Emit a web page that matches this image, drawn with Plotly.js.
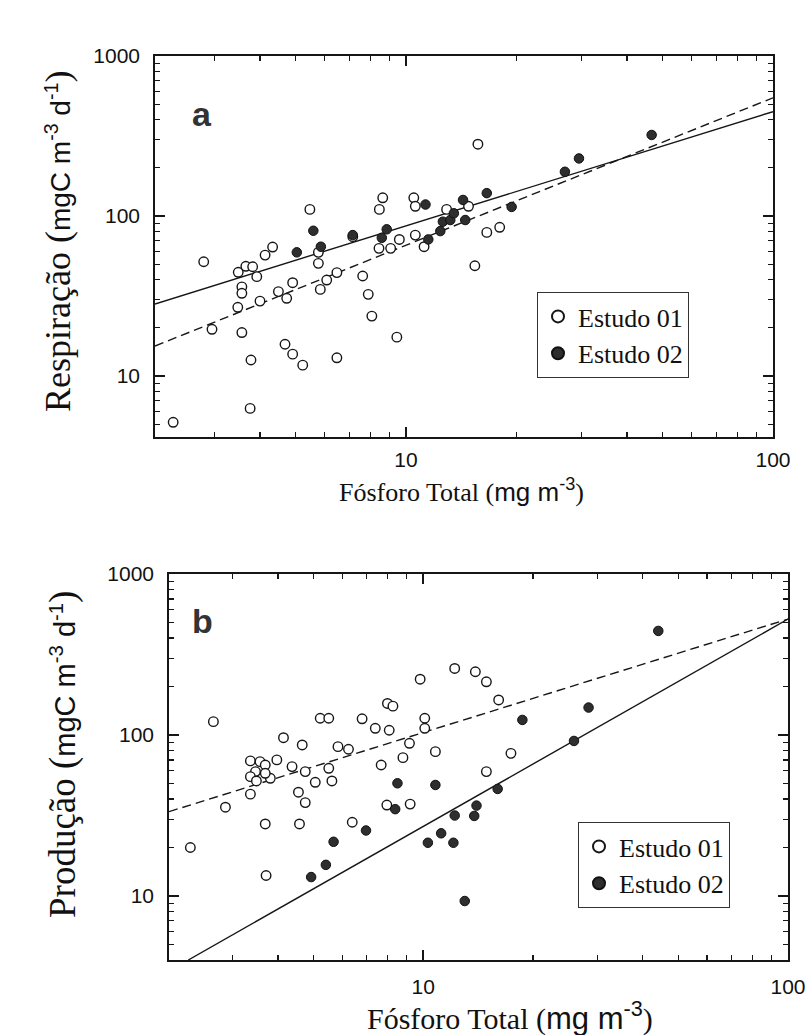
<!DOCTYPE html>
<html>
<head>
<meta charset="utf-8">
<script src="https://cdn.plot.ly/plotly-3.0.1.min.js"></script>
<style>html,body{margin:0;padding:0;background:#fff}</style>
</head>
<body>
<div id="chart" style="width:811px;height:1035px"></div>
<script>
// ---------- Panel a : Respiração vs Fósforo Total ----------
var respOpenX = [15.7, 5.47, 8.64, 8.46, 10.5, 10.6, 12.9, 14.8, 16.6, 18.0, 15.4, 2.81, 3.49, 3.66, 3.82, 3.92, 4.13, 4.33, 3.57, 3.57, 3.48, 4.0, 4.49, 4.73, 4.91, 5.77, 5.77, 5.84, 6.08, 6.48, 7.16, 7.62, 7.89, 8.07, 9.44, 8.44, 9.08, 9.59, 10.6, 11.2, 2.96, 3.57, 4.68, 4.91, 5.23, 3.78, 6.48, 2.32, 3.76];
var respOpenY = [281, 110, 130, 110, 130, 115, 110, 115, 79, 85, 48.9, 51.8, 44.5, 48.5, 48.2, 41.8, 57, 64, 36.1, 32.9, 26.9, 29.4, 33.7, 30.6, 38.3, 59.3, 50.6, 34.8, 39.8, 44.3, 74.3, 42.2, 32.4, 23.7, 17.5, 62.8, 62.8, 71.4, 76, 64.3, 19.6, 18.7, 15.8, 13.7, 11.7, 12.6, 13.0, 5.14, 6.28];
var respFillX = [5.59, 5.04, 5.86, 7.16, 8.86, 8.59, 11.3, 11.5, 12.4, 12.6, 13.2, 13.5, 14.3, 14.5, 16.6, 19.4, 27.1, 29.6, 46.7];
var respFillY = [80.9, 59.3, 64.3, 76, 82.6, 73.1, 118, 71.4, 80.5, 92.2, 94.4, 104, 126, 94.4, 139, 114, 189, 229, 321];
var respLineX = [2.07, 100];
var respSolidY = [28.2, 449];
var respDashY = [15.4, 548];

// ---------- Panel b : Produção vs Fósforo Total ----------
var prodOpenX = [2.66, 9.81, 12.2, 13.9, 14.9, 16.1, 7.98, 8.26, 5.22, 5.51, 6.8, 7.39, 8.07, 10.1, 10.1, 4.14, 4.66, 5.84, 6.24, 9.17, 10.8, 8.8, 7.67, 17.4, 14.9, 3.36, 3.57, 3.69, 3.47, 3.36, 3.49, 3.81, 3.97, 4.37, 4.75, 5.51, 5.62, 5.06, 3.69, 3.36, 2.87, 4.55, 4.75, 3.69, 4.58, 6.39, 7.95, 9.21, 2.30, 3.71];
var prodOpenY = [121, 222, 259, 247, 214, 165, 157, 151, 127, 127, 126, 110, 107, 127, 110, 96.2, 86.7, 84.6, 81.5, 88.8, 78.8, 72.3, 65.1, 76.9, 59.2, 69, 68.3, 65.1, 59.2, 55.1, 51.8, 53.8, 70, 63.6, 59.2, 62.1, 51.8, 50.8, 57.8, 42.9, 35.6, 44.1, 38, 28, 28, 28.7, 36.7, 37.2, 20, 13.4];
var prodFillX = [8.5, 10.8, 8.38, 6.97, 5.68, 5.41, 4.93, 12.2, 14.0, 13.8, 16.0, 11.2, 10.3, 12.1, 13.0, 18.7, 25.9, 28.4, 44.1];
var prodFillY = [50.1, 48.9, 34.6, 25.5, 21.7, 15.6, 13.1, 31.6, 36.4, 31.4, 46.2, 24.5, 21.4, 21.4, 9.3, 124, 91.8, 148, 443];
var prodDashX = [2.01, 100];
var prodDashY = [33.4, 525];
var prodSolidX = [2.27, 100];
var prodSolidY = [4.0, 525];

// ---------- tick labels ----------
var xTickVals = [10, 100];
var xTickText = ['10', '100'];
var yTickVals = [10, 100, 1000];
var yTickText = ['10', '100', '1000'];
var xMinor = [2, 3, 4, 5, 6, 7, 8, 9, 20, 30, 40, 50, 60, 70, 80, 90];
var yMinor = [5, 6, 7, 8, 9, 20, 30, 40, 50, 60, 70, 80, 90, 200, 300, 400, 500, 600, 700, 800, 900];
var seriesNames = ['Estudo 01', 'Estudo 02'];

var W = 811, H = 1035;
var ink = '#161616';
var serif = 'Liberation Serif, Times New Roman, serif';
var sans = 'Liberation Sans, Arial, sans-serif';

function openMarker() { return {symbol: 'circle', size: 9.5, color: '#ffffff', line: {color: ink, width: 1.4}}; }
function fillMarker() { return {symbol: 'circle', size: 9.5, color: '#2e2e2e', line: {color: '#111', width: 1}}; }

var traces = [
  {x: respLineX, y: respSolidY, xaxis: 'x', yaxis: 'y', mode: 'lines', line: {color: ink, width: 1.4}, showlegend: false, hoverinfo: 'skip'},
  {x: respLineX, y: respDashY, xaxis: 'x', yaxis: 'y', mode: 'lines', line: {color: ink, width: 1.4, dash: '9px,5px'}, showlegend: false, hoverinfo: 'skip'},
  {x: respOpenX, y: respOpenY, xaxis: 'x', yaxis: 'y', mode: 'markers', name: seriesNames[0], marker: openMarker(), legend: 'legend'},
  {x: respFillX, y: respFillY, xaxis: 'x', yaxis: 'y', mode: 'markers', name: seriesNames[1], marker: fillMarker(), legend: 'legend'},
  {x: prodSolidX, y: prodSolidY, xaxis: 'x2', yaxis: 'y2', mode: 'lines', line: {color: ink, width: 1.4}, showlegend: false, hoverinfo: 'skip'},
  {x: prodDashX, y: prodDashY, xaxis: 'x2', yaxis: 'y2', mode: 'lines', line: {color: ink, width: 1.4, dash: '9px,5px'}, showlegend: false, hoverinfo: 'skip'},
  {x: prodOpenX, y: prodOpenY, xaxis: 'x2', yaxis: 'y2', mode: 'markers', name: seriesNames[0], marker: openMarker(), legend: 'legend2'},
  {x: prodFillX, y: prodFillY, xaxis: 'x2', yaxis: 'y2', mode: 'markers', name: seriesNames[1], marker: fillMarker(), legend: 'legend2'}
];

function axisBase(extra) {
  var a = {
    type: 'log', showgrid: false, zeroline: false, showline: true, linecolor: ink, linewidth: 1.8,
    mirror: 'ticks', ticks: 'inside', ticklen: 10, tickwidth: 1.5, tickcolor: ink,
    tickmode: 'array', tickfont: {family: sans, size: 21, color: '#111'}, ticklabelstandoff: 9
  };
  for (var k in extra) a[k] = extra[k];
  return a;
}
function minorTicks(vals) {
  return {tickmode: 'array', tickvals: vals, ticks: 'inside', ticklen: 5, tickwidth: 1.2, tickcolor: ink, showgrid: false};
}

function px2x(p) { return p / W; }
function py2y(p) { return 1 - p / H; }

function sp(fam, size, t) { return '<span style="font-family:' + fam + ';font-size:' + size + 'px">' + t + '</span>'; }
function rateTitle(word, serifSize, sansSize) {
  return sp('Liberation Serif', serifSize, word + ' (') +
    sp('Liberation Sans', sansSize, 'mgC m<sup>-3</sup> d<sup>-1</sup>') +
    sp('Liberation Serif', serifSize, ')');
}
function phosTitle(serifSize, sansSize) {
  return sp('Liberation Serif', serifSize, 'Fósforo Total (') +
    sp('Liberation Sans', sansSize, 'mg m<sup>-3</sup>') +
    sp('Liberation Serif', serifSize, ')');
}

var layout = {
  width: W, height: H, margin: {l: 0, r: 0, t: 0, b: 0},
  paper_bgcolor: '#ffffff', plot_bgcolor: '#ffffff',
  xaxis: axisBase({domain: [px2x(155), px2x(773)], range: [Math.log10(2.07), 2], anchor: 'y',
    tickvals: xTickVals, ticktext: xTickText, ticklabelstandoff: 3, minor: minorTicks(xMinor)}),
  yaxis: axisBase({domain: [py2y(437), py2y(56)], range: [Math.log10(4.16), 3], anchor: 'x',
    tickvals: yTickVals, ticktext: yTickText, minor: minorTicks(yMinor)}),
  xaxis2: axisBase({domain: [px2x(169), px2x(788)], range: [Math.log10(2.01), 2], anchor: 'y2',
    tickvals: xTickVals, ticktext: xTickText, ticklabelstandoff: 7, minor: minorTicks(xMinor)}),
  yaxis2: axisBase({domain: [py2y(960), py2y(574)], range: [Math.log10(4.0), 3], anchor: 'x2',
    tickvals: yTickVals, ticktext: yTickText, minor: minorTicks(yMinor)}),
  legend: {x: px2x(537), y: py2y(292), xanchor: 'left', yanchor: 'top', bgcolor: '#ffffff',
    bordercolor: '#333', borderwidth: 1, font: {family: serif, size: 26, color: '#111'}, itemsizing: 'constant', tracegroupgap: 0},
  legend2: {x: px2x(578), y: py2y(822), xanchor: 'left', yanchor: 'top', bgcolor: '#ffffff',
    bordercolor: '#333', borderwidth: 1, font: {family: serif, size: 26, color: '#111'}, itemsizing: 'constant', tracegroupgap: 0},
  annotations: [
    {xref: 'paper', yref: 'paper', x: px2x(202), y: py2y(114), text: '<b>a</b>', showarrow: false,
      font: {family: sans, size: 34, color: '#333'}, xanchor: 'center', yanchor: 'middle'},
    {xref: 'paper', yref: 'paper', x: px2x(202), y: py2y(621), text: '<b>b</b>', showarrow: false,
      font: {family: sans, size: 34, color: '#333'}, xanchor: 'center', yanchor: 'middle'},
    {xref: 'paper', yref: 'paper', x: px2x(58), y: py2y(242), text: rateTitle('Respiração', 36, 28), textangle: -90, showarrow: false,
      font: {family: serif, size: 36, color: '#111'}, xanchor: 'center', yanchor: 'middle'},
    {xref: 'paper', yref: 'paper', x: px2x(63), y: py2y(755), text: rateTitle('Produção', 37, 29), textangle: -90, showarrow: false,
      font: {family: serif, size: 37, color: '#111'}, xanchor: 'center', yanchor: 'middle'},
    {xref: 'paper', yref: 'paper', x: px2x(461), y: py2y(490), text: phosTitle(26, 26), showarrow: false,
      font: {family: serif, size: 26, color: '#111'}, xanchor: 'center', yanchor: 'middle'},
    {xref: 'paper', yref: 'paper', x: px2x(510), y: py2y(1016), text: phosTitle(30, 31), showarrow: false,
      font: {family: serif, size: 30, color: '#111'}, xanchor: 'center', yanchor: 'middle'}
  ]
};

Plotly.newPlot('chart', traces, layout, {staticPlot: true, displayModeBar: false});
</script>
</body>
</html>
